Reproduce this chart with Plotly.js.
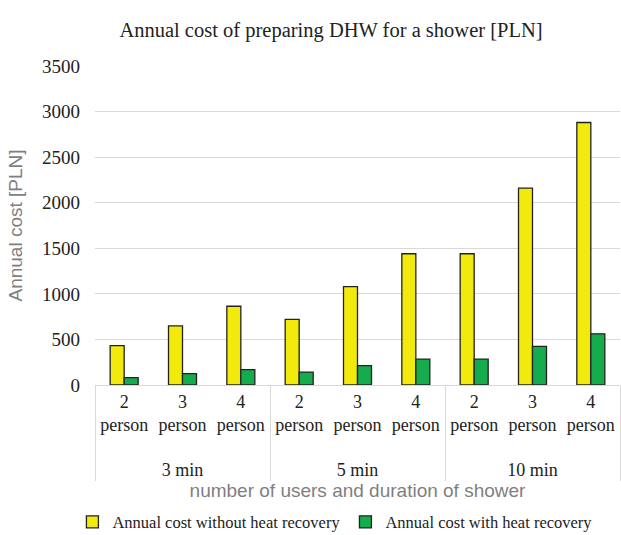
<!DOCTYPE html>
<html><head><meta charset="utf-8">
<script src="https://cdn.plot.ly/plotly-3.0.1.min.js"></script>
<style>body{margin:0;padding:0;background:#fff}#chart{width:621px;height:535px}</style>
</head><body><div id="chart"></div>
<script>
const durations = ["<br>3 min","<br>3 min","<br>3 min","<br>5 min","<br>5 min","<br>5 min","<br>10 min","<br>10 min","<br>10 min"];
const users = ["2<br>person","3<br>person","4<br>person","2<br>person","3<br>person","4<br>person","2<br>person","3<br>person","4<br>person"];
const withoutRecovery = [432, 648, 864, 720, 1080, 1440, 1440, 2160, 2880];
const withRecovery = [82, 125, 168, 142, 212, 284, 284, 424, 562];
const seriesNames = ["Annual cost without heat recovery", "Annual cost with heat recovery"];

const serif = "Liberation Serif, Times New Roman, serif";
const sans = "Liberation Sans, Arial, sans-serif";

const traces = [
  {type:"bar", x:[durations, users], y:withoutRecovery, name:seriesNames[0],
   marker:{color:"#F2EA0C", line:{color:"#222", width:1.3}}},
  {type:"bar", x:[durations, users], y:withRecovery, name:seriesNames[1],
   marker:{color:"#14AC4C", line:{color:"#222", width:1.3}}}
];
const layout = {
  width:621, height:535,
  margin:{l:95, r:1, t:66, b:150},
  paper_bgcolor:"#fff", plot_bgcolor:"#fff",
  title:{text:"Annual cost of preparing DHW for a shower [PLN]", font:{family:serif, size:20.5, color:"#222"}, x:0.533, xanchor:"center", y:0.944, yanchor:"middle"},
  bargap:0.52, bargroupgap:0,
  xaxis:{type:"multicategory", tickangle:0, tickfont:{family:serif, size:18, color:"#222"}, automargin:false,
    showline:true, linecolor:"#d9d9d9", linewidth:1, showdividers:true, dividercolor:"#d9d9d9", dividerwidth:1,
    ticks:"", title:{text:"number of users and duration of shower", font:{family:sans, size:19, color:"#7f7f7f"}, standoff:4}},
  yaxis:{range:[0,3500], dtick:500, tickfont:{family:serif, size:19, color:"#222"}, automargin:false,
    gridcolor:"#d9d9d9", gridwidth:1, zeroline:false, showline:false, ticks:"", ticklen:0, ticklabelstandoff:14,
    title:{text:"Annual cost [PLN]", font:{family:sans, size:19, color:"#7f7f7f"}, standoff:14}},
  legend:{orientation:"h", xref:"paper", yref:"container", x:0.457, xanchor:"center", y:0.024, yanchor:"middle",
    font:{family:serif, size:16.5, color:"#222"}, traceorder:"normal"},
  showlegend:true
};
Plotly.newPlot("chart", traces, layout, {displayModeBar:false, staticPlot:true});
</script></body></html>
